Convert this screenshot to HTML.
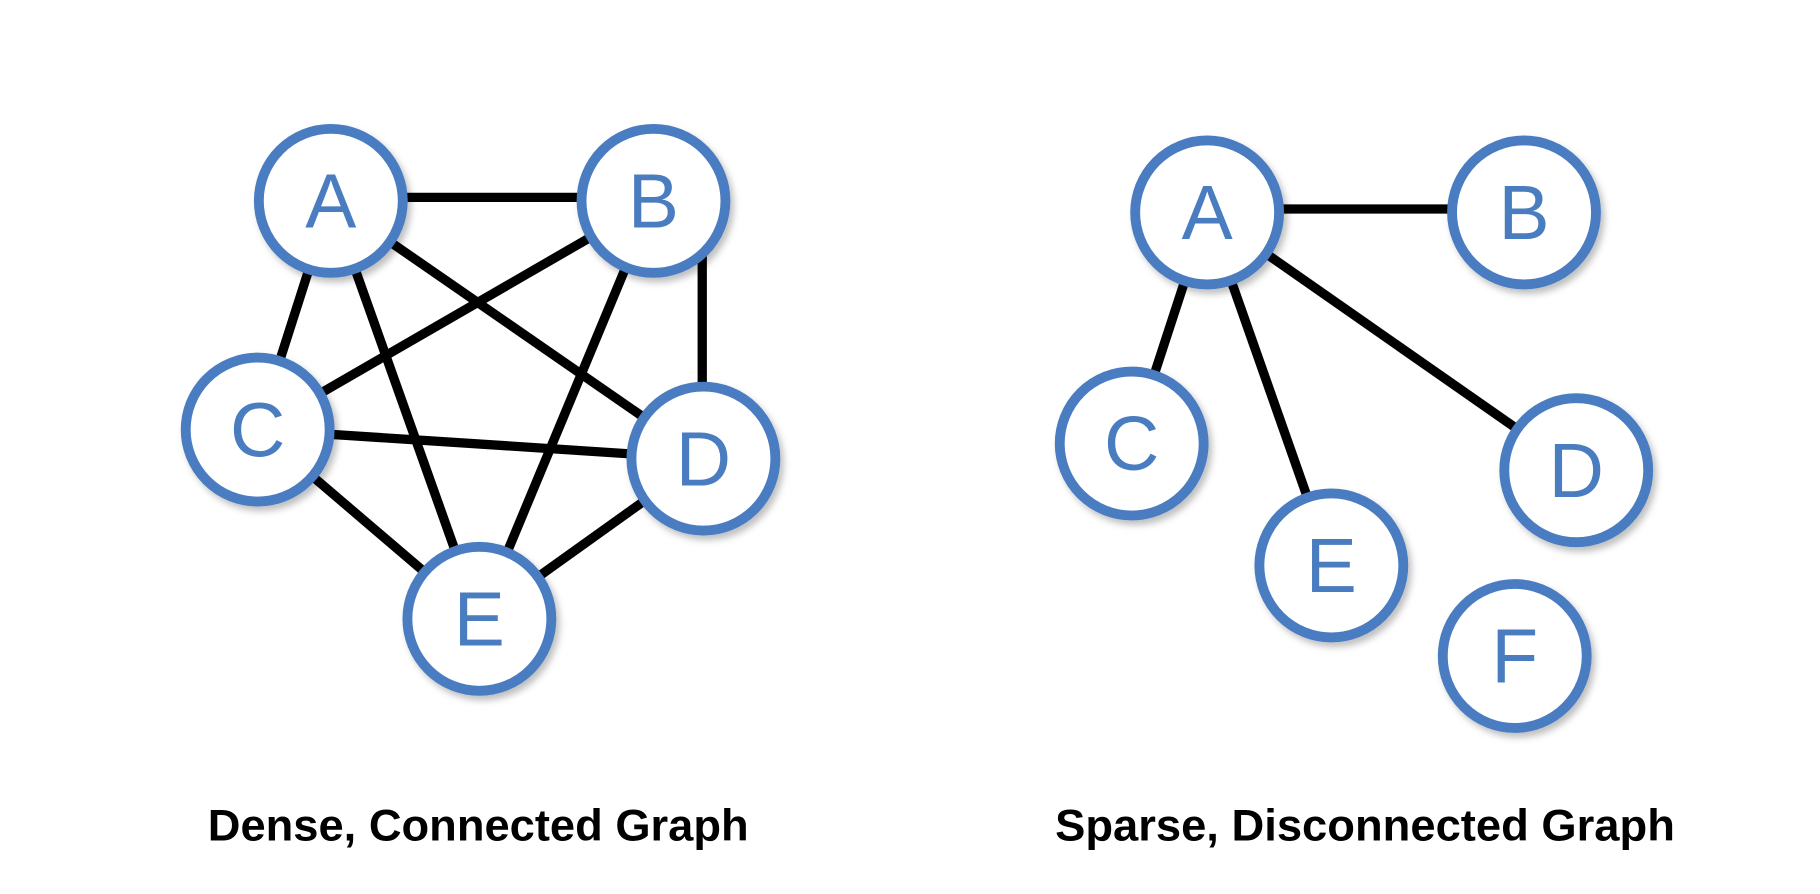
<!DOCTYPE html>
<html><head><meta charset="utf-8"><style>
html,body{margin:0;padding:0;background:#fff;}
svg{display:block;}
</style></head><body>
<svg width="1820" height="894" viewBox="0 0 1568 770" preserveAspectRatio="none" xmlns="http://www.w3.org/2000/svg">
<defs>
<filter id="sh" x="-30%" y="-30%" width="160%" height="160%">
<feDropShadow dx="3" dy="4" stdDeviation="3" flood-color="#000" flood-opacity="0.25"/>
</filter>
</defs>
<g stroke="#000" stroke-width="8" stroke-linecap="butt">
<line x1="285" y1="170" x2="563" y2="170"/>
<line x1="285" y1="173" x2="222" y2="370"/>
<line x1="285" y1="173" x2="606" y2="395"/>
<line x1="285" y1="173" x2="413" y2="533"/>
<line x1="563" y1="173" x2="222" y2="370"/>
<line x1="605" y1="215" x2="605" y2="340"/>
<line x1="563" y1="173" x2="413" y2="533"/>
<line x1="222" y1="370" x2="606" y2="395"/>
<line x1="222" y1="370" x2="413" y2="533"/>
<line x1="606" y1="395" x2="413" y2="533"/>
<line x1="1040" y1="180" x2="1313" y2="180"/>
<line x1="1040" y1="183" x2="975" y2="382"/>
<line x1="1040" y1="183" x2="1358" y2="405"/>
<line x1="1040" y1="183" x2="1147" y2="487"/>
</g>
<g fill="#fff" stroke="#4a7cc0" stroke-width="8.5" filter="url(#sh)">
<circle cx="285" cy="173" r="62"/>
<circle cx="563" cy="173" r="62"/>
<circle cx="222" cy="370" r="62"/>
<circle cx="606" cy="395" r="62"/>
<circle cx="413" cy="533" r="62"/>
<circle cx="1040" cy="183" r="62"/>
<circle cx="1313" cy="183" r="62"/>
<circle cx="975" cy="382" r="62"/>
<circle cx="1358" cy="405" r="62"/>
<circle cx="1147" cy="487" r="62"/>
<circle cx="1305" cy="565" r="62"/>
</g>
<g fill="#4a7cc0" font-family="Liberation Sans, sans-serif" font-size="66" text-anchor="middle">
<text x="285" y="196">A</text>
<text x="563" y="196">B</text>
<text x="222" y="393">C</text>
<text x="606" y="418">D</text>
<text x="413" y="556">E</text>
<text x="1040" y="206">A</text>
<text x="1313" y="206">B</text>
<text x="975" y="405">C</text>
<text x="1358" y="428">D</text>
<text x="1147" y="510">E</text>
<text x="1305" y="588">F</text>
</g>
<g fill="#000" font-family="Liberation Sans, sans-serif" font-weight="bold" font-size="38" text-anchor="middle">
<text x="412" y="724" textLength="466" lengthAdjust="spacingAndGlyphs">Dense, Connected Graph</text>
<text x="1176" y="724" textLength="534" lengthAdjust="spacingAndGlyphs">Sparse, Disconnected Graph</text>
</g>
</svg>
</body></html>
